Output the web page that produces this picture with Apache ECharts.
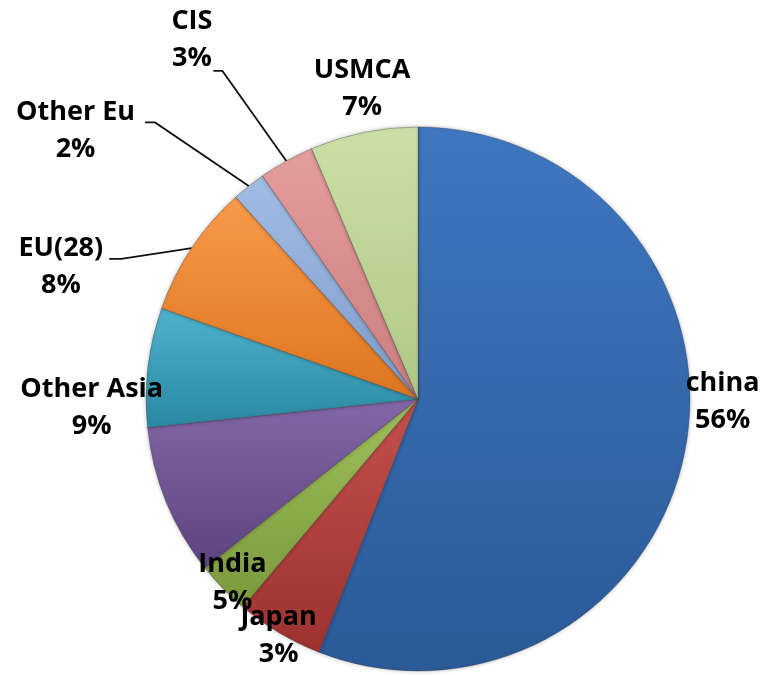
<!DOCTYPE html>
<html>
<head>
<meta charset="utf-8">
<style>
  html, body { margin: 0; background: #fff; }
  #chart { width: 773px; height: 675px; }
</style>
<script src="https://cdn.jsdelivr.net/npm/echarts@6/dist/echarts.min.js"></script>
</head>
<body>
<div id="chart"></div>
<script>
// slices clockwise from 12 o'clock
const regions = ['china', 'Japan', 'India', 'Other Asia', '', 'EU(28)', 'Other Eu', 'CIS', 'USMCA'];
// slice sizes as drawn (%)
const shares = [56, 5.2, 3.2, 9.0, 7.1, 7.9, 2.0, 3.3, 6.4];
// percentages as printed on the labels
const shareLabels = ['56%', '3%', '5%', '9%', '', '8%', '2%', '3%', '7%'];

const sliceColors = [
  ['#3f77c0', '#2b5a98'],
  ['#c4504c', '#9c3230'],
  ['#a0c05c', '#7a993c'],
  ['#8467a8', '#5c437e'],
  ['#4fb2cc', '#2a88a2'],
  ['#f99a4a', '#dd7520'],
  ['#a2bde4', '#7f9cca'],
  ['#e49d9d', '#cc7e7e'],
  ['#cbe0a6', '#b0c886']
];

const CX = 418, CY = 399, R = 272;

// label centre per slice: [angle from 12 o'clock in deg, distance as share of radius]
const labelSpots = [[90.6, 1.12], [210.5, 1.01], [225.3, 0.96], [268.4, 1.2], null,
  [290.3, 1.4], [308.1, 1.6], [327.8, 1.56], [349.8, 1.16]];
// leader line: [gap right of label, drop from label centre, horizontal run]
const leaders = [null, null, null, null, null, [6, -8, 12], [10, -8, 10], [1, 31, 9], null];

const total = shares.reduce((a, b) => a + b, 0);
let acc = 0;
const midAngles = shares.map((v) => {
  const mid = (acc + v / 2) / total * Math.PI * 2;
  acc += v;
  return mid;
});

const chart = echarts.init(document.getElementById('chart'));
chart.setOption({
  backgroundColor: '#fff',
  animation: false,
  series: [
    {
      type: 'pie',
      center: [CX, CY],
      radius: R,
      startAngle: 90,
      clockwise: true,
      avoidLabelOverlap: false,
      emphasis: { disabled: true },
      itemStyle: {
        borderColor: 'rgba(60,60,60,0.35)',
        borderWidth: 1,
        shadowBlur: 4,
        shadowColor: 'rgba(0,0,0,0.25)'
      },
      label: {
        show: true,
        position: 'outside',
        color: '#000',
        fontFamily: 'Open Sans',
        fontWeight: 'bold',
        fontSize: 27,
        lineHeight: 37,
        formatter: (p) => regions[p.dataIndex] + '\n' + shareLabels[p.dataIndex]
      },
      labelLine: { show: true, lineStyle: { color: '#111', width: 1.8 } },
      labelLayout: (p) => {
        const i = p.dataIndex;
        const s = labelSpots[i];
        if (!s) return {};
        const a = s[0] * Math.PI / 180;
        const x = CX + Math.sin(a) * s[1] * R;
        const y = CY - Math.cos(a) * s[1] * R;
        const out = { x: x, y: y, align: 'center', verticalAlign: 'middle' };
        const l = leaders[i];
        if (l) {
          const m = midAngles[i];
          const ex = CX + Math.sin(m) * R;
          const ey = CY - Math.cos(m) * R;
          const endX = x + p.labelRect.width / 2 + l[0];
          const endY = y + l[1];
          out.labelLinePoints = [[ex, ey], [endX + l[2], endY], [endX, endY]];
        }
        return out;
      },
      data: shares.map((v, i) => ({
        name: regions[i] || 'other',
        value: v,
        itemStyle: {
          color: new echarts.graphic.LinearGradient(0, 0, 0, 1, [
            { offset: 0, color: sliceColors[i][0] },
            { offset: 1, color: sliceColors[i][1] }
          ])
        },
        label: { show: !!regions[i] },
        labelLine: { show: !!leaders[i] }
      }))
    }
  ]
});
</script>
</body>
</html>
